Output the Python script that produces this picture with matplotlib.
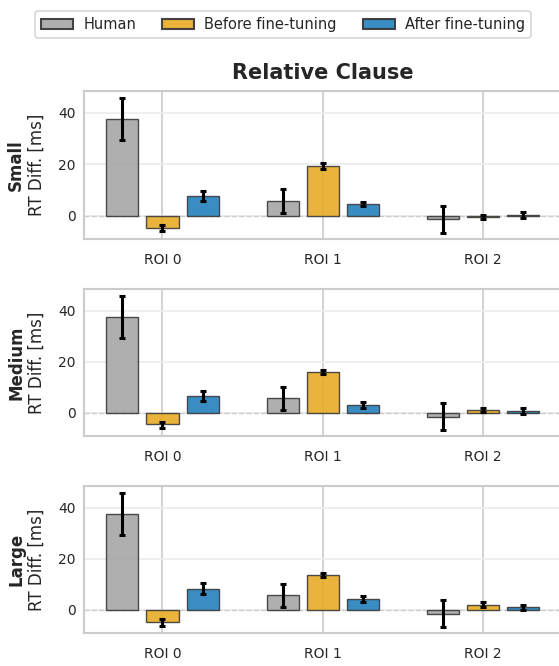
import matplotlib
matplotlib.use("Agg")
import matplotlib.pyplot as plt
import numpy as np
from matplotlib.patches import Patch

rois = ["ROI 0", "ROI 1", "ROI 2"]
sizes = ["Small", "Medium", "Large"]
series = ["Human", "Before fine-tuning", "After fine-tuning"]
colors = ["#a6a6a6", "#e8ab25", "#2381bd"]

human_mean = [37.7, 5.7, -1.4]
human_lo = [29.4, 1.0, -6.6]
human_hi = [45.8, 10.3, 3.9]

before_mean = {"Small": [-4.8, 19.5, -0.4], "Medium": [-4.5, 16.2, 1.3], "Large": [-4.7, 13.7, 2.1]}
before_lo = {"Small": [-6.0, 18.3, -1.2], "Medium": [-5.7, 15.2, 0.4], "Large": [-6.2, 12.9, 1.2]}
before_hi = {"Small": [-3.5, 20.5, 0.5], "Medium": [-3.5, 17.0, 2.1], "Large": [-3.5, 14.6, 3.1]}

after_mean = {"Small": [7.7, 4.7, 0.3], "Medium": [6.6, 3.1, 0.9], "Large": [8.4, 4.3, 1.0]}
after_lo = {"Small": [5.8, 3.9, -0.7], "Medium": [4.8, 2.1, -0.2], "Large": [6.4, 3.3, 0.1]}
after_hi = {"Small": [9.7, 5.5, 1.3], "Medium": [8.6, 4.2, 1.9], "Large": [10.6, 5.5, 1.8]}

fig = plt.figure(figsize=(5.59, 6.66), dpi=100)
tops = [91, 289, 486]
bottoms = [239, 436, 633]
H = 666.0
W = 559.0
x = np.arange(len(rois))
width = 0.2
offsets = [-0.25, 0.0, 0.25]

axes = []
for i, size in enumerate(sizes):
    ax = fig.add_axes([84 / W, 1 - bottoms[i] / H, (563 - 84) / W, (bottoms[i] - tops[i]) / H])
    axes.append(ax)
    ax.set_facecolor("white")
    means = [human_mean, before_mean[size], after_mean[size]]
    los = [human_lo, before_lo[size], after_lo[size]]
    his = [human_hi, before_hi[size], after_hi[size]]
    ax.axhline(0, color="#cccccc", lw=1.0, ls="--", zorder=1)
    for j in range(3):
        m = np.array(means[j])
        err = np.array([m - np.array(los[j]), np.array(his[j]) - m])
        ax.bar(x + offsets[j], m, width=width, color=colors[j], edgecolor="#3a3a3a",
               linewidth=1.0, alpha=0.9, zorder=2)
        ax.errorbar(x + offsets[j], m, yerr=err, fmt="none", ecolor="black",
                    elinewidth=2.2, capsize=2.5, capthick=2.2, zorder=3)
    ax.set_xlim(-0.49, 2.5)
    ax.set_ylim(-9, 48.5)
    ax.set_yticks([0, 20, 40])
    ax.set_xticks(x)
    ax.set_xticklabels(rois)
    ax.grid(axis="x", color="#d4d4d4", lw=1.5, zorder=0)
    ax.grid(axis="y", color="#ececec", lw=1.2, zorder=0)
    ax.set_axisbelow(True)
    for s in ax.spines.values():
        s.set_color("#cccccc")
        s.set_linewidth(1.5)
    ax.tick_params(axis="both", length=0, labelsize=10, colors="#262626", pad=6)
    ax.tick_params(axis="x", pad=10)
    ax.set_ylabel("RT Diff. [ms]", fontsize=12, color="#262626", labelpad=9)
    ax.text((16 - 84) / 479.0, 0.5, size, transform=ax.transAxes, rotation=90, fontsize=12,
            fontweight="bold", color="#262626", ha="center", va="center")

fig.text(322.5 / W, 1 - 73 / H, "Relative Clause", fontsize=15, fontweight="bold",
         color="#262626", ha="center", va="center")

handles = [Patch(facecolor=colors[j], edgecolor="#333333", linewidth=1.5, alpha=0.9, label=series[j])
           for j in range(3)]
leg = fig.legend(handles=handles, loc="upper center", bbox_to_anchor=(283 / W, 1 - 4 / H), ncol=3,
                 fontsize=10.5, frameon=True, handlelength=2.2, handleheight=0.75,
                 columnspacing=1.75, borderpad=0.4, handletextpad=0.73)
leg.get_frame().set_edgecolor("#cccccc")
leg.get_frame().set_linewidth(1.2)
for t in leg.get_texts():
    t.set_color("#262626")

fig.savefig("out.png", dpi=100)
